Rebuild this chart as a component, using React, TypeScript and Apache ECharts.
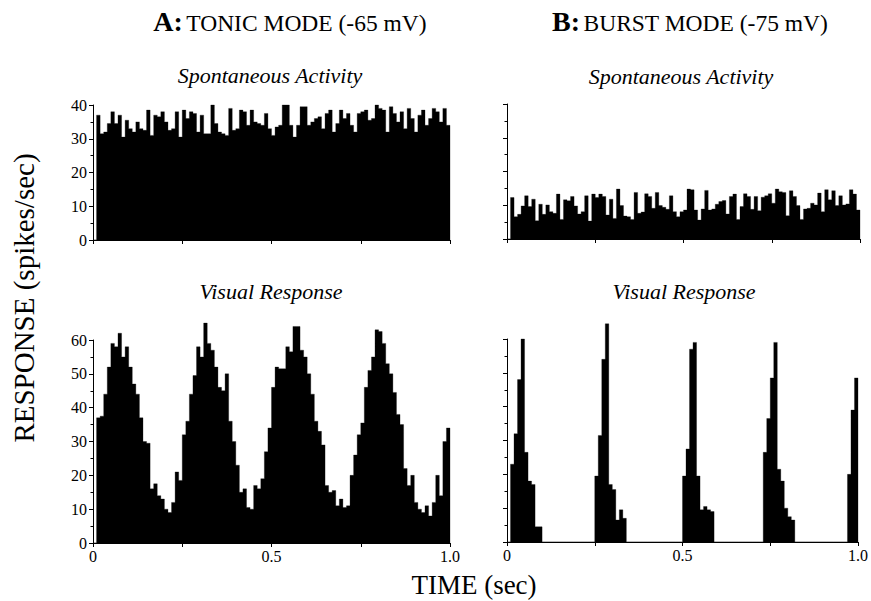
import React, { useEffect, useRef } from "react";
import * as echarts from "echarts";

// ---- Data (spikes/sec per 10 ms bin, 0..1 s) ----
const tonicSpontaneous = [
  0,
  37, 31.5, 32, 34.5, 38, 34.5, 37, 30.5, 35.5, 33,
  32, 35, 33, 32.5, 38.5, 31, 37, 36.5, 38, 35,
  32.5, 33, 38, 30.5, 38.5, 36, 38, 37.5, 32, 37,
  31.5, 31.5, 40, 34.5, 32, 31.5, 31, 39, 32.5, 33,
  38.5, 38, 34, 38.5, 35, 34.5, 34, 37.5, 33, 31,
  33.5, 34, 40, 40, 34, 30.5, 34, 39.5, 39.5, 34,
  35, 36, 36.5, 33, 37.5, 38.5, 32, 34.5, 38.5, 36,
  37.5, 34, 32, 37.5, 38, 38.5, 35.5, 36, 40, 39,
  38.5, 32, 39.5, 37.5, 35, 38, 33, 39, 36, 32,
  37, 38.5, 34, 36, 39, 38, 35, 39, 34,
];

const tonicVisual = [
  0,
  37, 37.5, 44, 52, 59, 58, 62, 55, 58, 52,
  47, 44, 37, 30, 29.5, 16, 17.5, 14, 13, 10,
  9, 12, 21, 18.5, 32, 36, 44, 49.5, 58, 55,
  65, 59, 57, 52, 46, 45, 50, 36, 30, 23,
  15, 16, 10.5, 10, 17, 16, 19, 27, 34, 46,
  52, 51.5, 51.5, 58, 56.5, 64, 64, 57, 55, 50,
  44, 36, 33, 29, 17, 15, 15.5, 11, 13, 10.5,
  11, 20, 26, 32, 35.5, 46, 51, 55, 63, 62.5,
  59, 53, 50, 44.5, 38, 35, 22, 17, 20, 12,
  10, 9, 11, 8, 12, 20, 14, 30, 34,
];

const burstSpontaneous = [
  0,
  12.3, 6.6, 7.3, 9.8, 12.8, 9.6, 11.8, 5.4, 10.3, 7.3,
  10.1, 8.1, 7.6, 13.3, 5.8, 11.6, 11.3, 12.6, 9.8, 7.4,
  8.1, 12.8, 5.3, 13.3, 12.3, 13.3, 12.6, 7.1, 11.8, 6.1,
  14.8, 9.9, 6.8, 6.6, 5.8, 13.8, 7.6, 8, 13.4, 12.6,
  9.1, 13.8, 9.9, 9.4, 8.8, 12.8, 8.1, 6.6, 8.1, 8.6,
  14.8, 14.6, 8.6, 5.6, 8.9, 14.4, 8.6, 8.9, 10.3, 11.1,
  11.4, 7.4, 12.6, 13.3, 5.8, 9.6, 13.4, 12.6, 8.8, 12.6,
  8.4, 12.4, 12.8, 13.4, 10.6, 14.8, 14, 13.8, 6.9, 14.3,
  12.6, 9.9, 5.8, 8.9, 9.1, 10.6, 10.1, 13.6, 8.1, 14.6,
  11.6, 14.3, 9.9, 12.8, 10.1, 10.4, 14.6, 13.3, 8.6,
];

const burstVisual = [
  0,
  23, 32, 48, 60, 26.5, 18, 17, 4.5, 4.5,
  0, 0, 0, 0, 0, 0, 0, 0, 0, 0, 0, 0, 0, 0, 0,
  19.5, 31.5, 54, 64.5, 17, 15.5, 6.5, 9.5, 7,
  0, 0, 0, 0, 0, 0, 0, 0, 0, 0, 0, 0, 0, 0, 0, 0,
  19.5, 27.5, 57, 59, 19.5, 9.5, 10.5, 9.5, 9,
  0, 0, 0, 0, 0, 0, 0, 0, 0, 0, 0, 0, 0, 0,
  26.5, 36.5, 48.5, 59, 21.5, 18, 10, 7.5, 6.5,
  0, 0, 0, 0, 0, 0, 0, 0, 0, 0, 0, 0, 0, 0, 0,
  20, 39, 48.5,
];

const timeLabels: Record<string, string> = { "0": "0", "0.5": "0.5", "1": "1.0" };
const spontaneousMax = 40;
const visualMax = 60;

const SERIF = "'Liberation Serif', 'Times New Roman', serif";

export default function App() {
  const ref = useRef<HTMLDivElement>(null);

  useEffect(() => {
    if (!ref.current) return;
    const chart = echarts.init(ref.current, undefined, { renderer: "svg" });

    const panels = [
      { data: tonicSpontaneous, grid: { left: 93, top: 105, width: 357, height: 135 }, max: spontaneousMax, yLabels: true, xLabels: false },
      { data: tonicVisual, grid: { left: 93, top: 340, width: 357, height: 203 }, max: visualMax, yLabels: true, xLabels: true },
      { data: burstSpontaneous, grid: { left: 507, top: 104, width: 353, height: 135 }, max: spontaneousMax, yLabels: false, xLabels: false },
      { data: burstVisual, grid: { left: 507, top: 339, width: 353, height: 203 }, max: visualMax, yLabels: false, xLabels: true },
    ];

    const grid: any[] = [];
    const xAxis: any[] = [];
    const yAxis: any[] = [];
    const series: any[] = [];

    panels.forEach((p, k) => {
      grid.push({ ...p.grid, containLabel: false });
      xAxis.push({
        type: "category",
        gridIndex: k,
        data: p.data.map((_, i) => i),
        show: false,
        boundaryGap: true,
        position: "bottom",
      });
      xAxis.push({
        type: "value",
        gridIndex: k,
        min: 0,
        max: 1,
        interval: 0.25,
        position: "bottom",
        z: 5,
        axisLine: { show: true, onZero: false, lineStyle: { color: "#000", width: 1 } },
        axisTick: { show: true, length: 4, lineStyle: { color: "#000", width: 1 } },
        splitLine: { show: false },
        axisLabel: {
          show: p.xLabels,
          margin: 5,
          color: "#000",
          fontFamily: SERIF,
          fontSize: 16,
          formatter: (v: number) => timeLabels[String(v)] ?? "",
        },
      });
      yAxis.push({
        type: "value",
        gridIndex: k,
        min: 0,
        max: p.max,
        interval: 10,
        z: 5,
        axisLine: { show: true, lineStyle: { color: "#000", width: 1 } },
        axisTick: { show: true, length: 4, lineStyle: { color: "#000", width: 1 } },
        minorTick: { show: true, splitNumber: 2, length: 2.5, lineStyle: { color: "#000", width: 1 } },
        splitLine: { show: false },
        minorSplitLine: { show: false },
        axisLabel: {
          show: p.yLabels,
          margin: 6,
          color: "#000",
          fontFamily: SERIF,
          fontSize: 16,
        },
      });
      const values = p.data;
      series.push({
        type: "custom",
        xAxisIndex: 2 * k,
        yAxisIndex: k,
        data: values.map((v, i) => [i, v]),
        clip: false,
        silent: true,
        renderItem: (params: any, api: any) => {
          if (params.dataIndex !== 0) return null;
          const bw = api.size([1, 0])[0];
          const base = api.coord([0, 0])[1];
          const pts: number[][] = [];
          values.forEach((v, i) => {
            const c = api.coord([i, v]);
            pts.push([c[0] - bw / 2, c[1]], [c[0] + bw / 2, c[1]]);
          });
          const first = [pts[0][0], base];
          const last = [pts[pts.length - 1][0], base];
          return {
            type: "polygon",
            shape: { points: [first, ...pts, last] },
            style: { fill: "#000", stroke: "#000", lineWidth: 0.3 },
          };
        },
      });
    });

    const subtitleStyle = (text: string) => ({
      text,
      fontFamily: SERIF,
      fontStyle: "italic",
      fontSize: 22,
      fill: "#000",
      align: "center",
      verticalAlign: "middle",
    });

    const headRich = {
      h: { fontFamily: SERIF, fontSize: 28, fontWeight: "bold", fill: "#000", verticalAlign: "bottom" },
      t: { fontFamily: SERIF, fontSize: 23.5, fill: "#000", verticalAlign: "bottom" },
    };

    chart.setOption({
      animation: false,
      backgroundColor: "#fff",
      grid,
      xAxis,
      yAxis,
      series,
      graphic: [
        { type: "text", x: 290, y: 21, style: { text: "{h|A:} {t|TONIC MODE (-65 mV)}", rich: headRich, align: "center", verticalAlign: "middle" } },
        { type: "text", x: 690, y: 21, style: { text: "{h|B:} {t|BURST MODE (-75 mV)}", rich: headRich, align: "center", verticalAlign: "middle" } },
        { type: "text", x: 270, y: 75, style: subtitleStyle("Spontaneous Activity") },
        { type: "text", x: 681, y: 76, style: subtitleStyle("Spontaneous Activity") },
        { type: "text", x: 271, y: 291, style: subtitleStyle("Visual Response") },
        { type: "text", x: 684, y: 291, style: subtitleStyle("Visual Response") },
        {
          type: "text",
          x: 24,
          y: 298,
          rotation: Math.PI / 2,
          style: { text: "RESPONSE (spikes/sec)", fontFamily: SERIF, fontSize: 29, fill: "#000", align: "center", verticalAlign: "middle" },
        },
        {
          type: "text",
          x: 474,
          y: 585,
          style: { text: "TIME (sec)", fontFamily: SERIF, fontSize: 27, fill: "#000", align: "center", verticalAlign: "middle" },
        },
      ],
    });

    return () => chart.dispose();
  }, []);

  return (
    <div
      ref={ref}
      style={{ position: "absolute", left: 0, top: 0, width: 871, height: 601, background: "#fff" }}
    />
  );
}
